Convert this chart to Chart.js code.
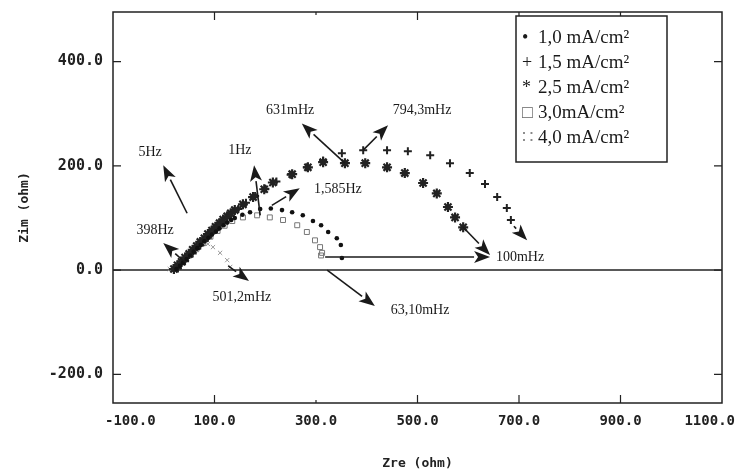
<!DOCTYPE html>
<html>
<head>
<meta charset="utf-8">
<script src="https://cdn.jsdelivr.net/npm/chart.js@4.4.0/dist/chart.umd.min.js"></script>
<style>
html, body { margin: 0; padding: 0; background: #fff; }
#wrap { position: relative; width: 736px; height: 476px; }
</style>
</head>
<body>
<div id="wrap"><canvas id="c" width="736" height="476"></canvas></div>
<script>
// current densities
var seriesNames = ['1,0 mA/cm²', '1,5 mA/cm²', '2,5 mA/cm²', '3,0mA/cm²', '4,0 mA/cm²'];
var legendMarks = ['•', '+', '*', '□', '∷'];

// Nyquist points, Zre / Zim (ohm)
var zre10 = [25, 32, 38, 45, 52, 59, 66, 73, 80, 88, 95, 103, 110, 118, 125, 133, 140, 155, 170, 190, 211, 233, 253, 274, 294, 310, 324, 341, 349, 351];
var zim10 = [2, 8, 14, 21, 28, 35, 42, 48, 55, 62, 68, 74, 80, 86, 91, 96, 100, 106, 111, 117, 118, 115, 111, 105, 94, 86, 73, 61, 48, 23];

var zre15 = [28, 42, 57, 72, 87, 102, 117, 132, 147, 162, 180, 200, 222, 250, 282, 314, 351, 393, 440, 481, 525, 564, 603, 633, 657, 676, 684];
var zim15 = [3, 17, 32, 47, 62, 77, 91, 104, 117, 129, 142, 156, 170, 183, 197, 210, 224, 230, 230, 228, 220, 205, 186, 165, 140, 119, 96];

var zre25 = [20, 27, 35, 42, 50, 57, 65, 72, 80, 87, 95, 102, 110, 117, 125, 132, 140, 156, 176, 198, 215, 253, 284, 314, 357, 397, 440, 475, 511, 538, 560, 574, 590];
var zim25 = [2, 9, 16, 24, 31, 39, 46, 54, 61, 69, 76, 83, 90, 97, 103, 109, 115, 126, 140, 155, 168, 184, 197, 207, 205, 205, 197, 186, 167, 147, 121, 101, 82];

var zre30 = [22, 36, 50, 64, 78, 92, 106, 120, 135, 156, 184, 209, 235, 263, 282, 298, 308, 312, 310];
var zim30 = [2, 15, 28, 40, 52, 64, 75, 85, 94, 101, 105, 101, 96, 86, 73, 57, 44, 33, 28];

var zre40 = [12, 32, 48, 62, 75, 87, 97, 111, 125, 131];
var zim40 = [2, 15, 29, 42, 52, 50, 44, 33, 19, 6];

var xTicks = [-100, 100, 300, 500, 700, 900, 1100];
var yTicks = [-200, 0, 200, 400];

// frequency notes: text, Zre, Zim
var notes = [
  ['5Hz', -27, 226],
  ['398Hz', -17, 77],
  ['1Hz', 150, 230],
  ['1,585Hz', 343, 155],
  ['631mHz', 249, 306],
  ['794,3mHz', 509, 306],
  ['100mHz', 702, 25],
  ['501,2mHz', 154, -52],
  ['63,10mHz', 505, -77]
];
// arrows: from (Zre, Zim) to (Zre, Zim)
var arrows = [
  [46, 109, -1, 201],
  [42, 15, -1, 52],
  [190, 105, 178, 201],
  [213, 124, 268, 157],
  [357, 205, 272, 281],
  [393, 230, 442, 278],
  [318, 25, 643, 25],
  [590, 82, 643, 29],
  [690, 84, 716, 57],
  [127, 8, 168, -21],
  [322, 0, 416, -69]
];

function pts(xs, ys) {
  var out = [];
  for (var i = 0; i < xs.length; i++) out.push({x: xs[i], y: ys[i]});
  return out;
}

var monoFont = '"DejaVu Sans Mono", monospace';

var frame = {
  id: 'frame',
  beforeDatasetsDraw: function(chart) {
    var a = chart.chartArea, ctx = chart.ctx;
    var xs = chart.scales.x, ys = chart.scales.y;
    ctx.save();
    ctx.strokeStyle = '#222';
    ctx.lineWidth = 1.5;
    var y0 = ys.getPixelForValue(0);
    ctx.beginPath();
    ctx.moveTo(a.left, y0);
    ctx.lineTo(a.right, y0);
    ctx.stroke();
    ctx.strokeRect(a.left, a.top, a.right - a.left, a.bottom - a.top);
    ctx.lineWidth = 1.2;
    xTicks.forEach(function(v) {
      if (v == -100 || v == 1100) return;
      var px = xs.getPixelForValue(v);
      var len = v == 300 ? 3 : 8;
      ctx.beginPath();
      ctx.moveTo(px, a.bottom); ctx.lineTo(px, a.bottom - len);
      ctx.moveTo(px, a.top); ctx.lineTo(px, a.top + len);
      ctx.stroke();
    });
    yTicks.forEach(function(v) {
      var py = ys.getPixelForValue(v);
      ctx.beginPath();
      ctx.moveTo(a.left, py); ctx.lineTo(a.left + 8, py);
      ctx.moveTo(a.right, py); ctx.lineTo(a.right - 8, py);
      ctx.stroke();
    });
    ctx.restore();
  },
  afterDatasetsDraw: function(chart) {
    var ctx = chart.ctx;
    var xs = chart.scales.x, ys = chart.scales.y;
    ctx.save();
    ctx.strokeStyle = '#1a1a1a';
    ctx.fillStyle = '#1a1a1a';
    ctx.lineWidth = 1.6;
    arrows.forEach(function(ar) {
      var x1 = xs.getPixelForValue(ar[0]), y1 = ys.getPixelForValue(ar[1]);
      var x2 = xs.getPixelForValue(ar[2]), y2 = ys.getPixelForValue(ar[3]);
      var ang = Math.atan2(y2 - y1, x2 - x1);
      var hl = 16, hw = 6;
      var bx = x2 - hl * Math.cos(ang), by = y2 - hl * Math.sin(ang);
      ctx.beginPath();
      ctx.moveTo(x1, y1);
      ctx.lineTo(bx, by);
      ctx.stroke();
      ctx.beginPath();
      ctx.moveTo(x2, y2);
      ctx.lineTo(bx + hw * Math.sin(ang), by - hw * Math.cos(ang));
      ctx.lineTo(bx + 4 * Math.cos(ang), by + 4 * Math.sin(ang));
      ctx.lineTo(bx - hw * Math.sin(ang), by + hw * Math.cos(ang));
      ctx.closePath();
      ctx.fill();
    });
    ctx.font = '14px "Liberation Serif", serif';
    ctx.textAlign = 'center';
    ctx.textBaseline = 'middle';
    notes.forEach(function(n) {
      ctx.fillText(n[0], xs.getPixelForValue(n[1]), ys.getPixelForValue(n[2]));
    });
    ctx.restore();
  },
  afterDraw: function(chart) {
    var ctx = chart.ctx, a = chart.chartArea, xs = chart.scales.x;
    ctx.save();
    // x tick labels, end labels pulled inside like the original plot
    ctx.fillStyle = '#222';
    ctx.font = 'bold 14px ' + monoFont;
    ctx.textBaseline = 'middle';
    xTicks.forEach(function(v, i) {
      var px = xs.getPixelForValue(v);
      if (i == 0) { ctx.textAlign = 'left'; px -= 8; }
      else if (i == xTicks.length - 1) { ctx.textAlign = 'right'; px += 13; }
      else ctx.textAlign = 'center';
      ctx.fillText(v.toFixed(1), px, a.bottom + 18);
    });
    // legend box inside the plot
    var left = a.left + 403, top = a.top + 4, w = 151, h = 146;
    ctx.fillStyle = '#fff';
    ctx.fillRect(left, top, w, h);
    ctx.strokeStyle = '#222';
    ctx.lineWidth = 1.5;
    ctx.strokeRect(left, top, w, h);
    ctx.textAlign = 'left';
    for (var i = 0; i < seriesNames.length; i++) {
      var y = top + 22 + i * 25;
      ctx.fillStyle = i == 4 ? '#888' : (i == 3 ? '#666' : '#1a1a1a');
      ctx.font = '18px "Liberation Serif", serif';
      ctx.fillText(legendMarks[i], left + 6, y);
      ctx.fillStyle = '#1a1a1a';
      ctx.font = '19px "Liberation Serif", serif';
      ctx.fillText(seriesNames[i], left + 22, y);
    }
    ctx.restore();
  }
};

new Chart(document.getElementById('c'), {
  type: 'scatter',
  data: {
    datasets: [
      {label: seriesNames[0], data: pts(zre10, zim10), pointStyle: 'circle', pointRadius: 2.3,
        backgroundColor: '#111', borderColor: '#111', borderWidth: 0},
      {label: seriesNames[1], data: pts(zre15, zim15), pointStyle: 'cross', pointRadius: 4,
        backgroundColor: '#222', borderColor: '#222', borderWidth: 2},
      {label: seriesNames[2], data: pts(zre25, zim25), pointStyle: 'star', pointRadius: 5,
        backgroundColor: '#222', borderColor: '#222', borderWidth: 2.2},
      {label: seriesNames[3], data: pts(zre30, zim30), pointStyle: 'rect', pointRadius: 3.5,
        backgroundColor: 'rgba(0,0,0,0)', borderColor: '#777', borderWidth: 1},
      {label: seriesNames[4], data: pts(zre40, zim40), pointStyle: 'crossRot', pointRadius: 3,
        backgroundColor: '#999', borderColor: '#999', borderWidth: 1}
    ]
  },
  options: {
    responsive: false,
    animation: false,
    layout: {padding: {top: 12, right: 14, left: 0, bottom: 0}},
    plugins: {legend: {display: false}, tooltip: {enabled: false}},
    scales: {
      x: {
        type: 'linear', min: -100, max: 1100,
        afterBuildTicks: function(s) { s.ticks = xTicks.map(function(v) { return {value: v}; }); },
        afterFit: function(s) { s.height = 73; s.paddingLeft = 0; s.paddingRight = 0; },
        grid: {display: false, drawTicks: false}, border: {display: false},
        ticks: {display: false},
        title: {display: true, text: 'Zre (ohm)', color: '#222', padding: {top: 0, bottom: 5},
          font: {family: monoFont, size: 13, weight: 'bold'}}
      },
      y: {
        type: 'linear', min: -255, max: 495,
        afterBuildTicks: function(s) { s.ticks = yTicks.map(function(v) { return {value: v}; }); },
        afterFit: function(s) { s.width = 113; s.paddingTop = 0; s.paddingBottom = 0; },
        grid: {display: false, drawTicks: false}, border: {display: false},
        ticks: {color: '#222', padding: 10, autoSkip: false,
          font: {family: monoFont, size: 15, weight: 'bold'},
          callback: function(v) { return v.toFixed(1); }},
        title: {display: true, text: 'Zim (ohm)', color: '#222', padding: {top: 17, bottom: 0},
          font: {family: monoFont, size: 13, weight: 'bold'}}
      }
    }
  },
  plugins: [frame]
});
</script>
</body>
</html>
